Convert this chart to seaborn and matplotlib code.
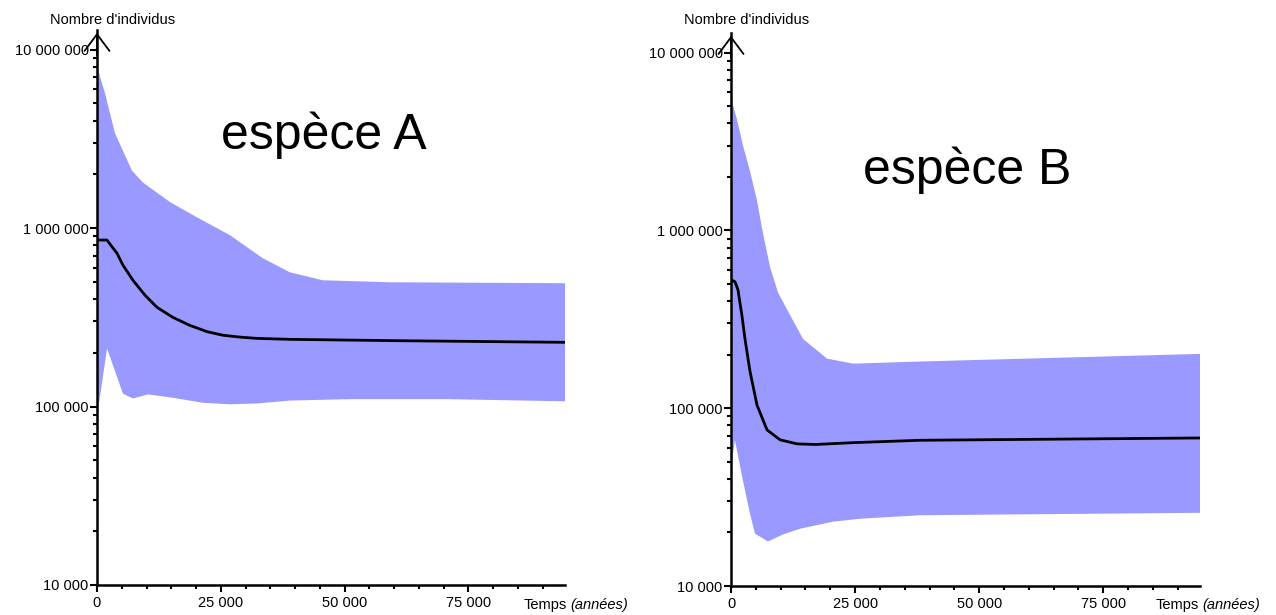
import numpy as np
import pandas as pd
import matplotlib
matplotlib.use('Agg')
import matplotlib.pyplot as plt
import matplotlib.ticker as mticker
import seaborn as sns

# ---------------- données ----------------
# espèce A
a_med_t = [0, 2000, 4030, 5240, 7260, 9680, 12100, 15320, 18750, 22180, 25400, 28830, 32260, 38900, 60000, 94500]
a_med_n = [857e3, 857e3, 723e3, 620e3, 510e3, 421e3, 360e3, 316e3, 285e3, 263e3, 251e3, 245e3, 241e3, 238e3, 234e3, 229e3]
a_up_t = [0, 200, 1610, 3630, 7060, 9270, 14720, 20160, 26810, 33470, 38910, 45560, 59070, 94500]
a_up_n = [7.9e6, 7.7e6, 5.7e6, 3.4e6, 2.1e6, 1.8e6, 1.40e6, 1.15e6, 914e3, 678e3, 566e3, 510e3, 497e3, 491e3]
a_lo_t = [0, 200, 2020, 5240, 7260, 10280, 15320, 21370, 26810, 32260, 38910, 51000, 71000, 94500]
a_lo_n = [97e3, 95e3, 212e3, 118e3, 111e3, 117e3, 112e3, 105e3, 103e3, 104e3, 108e3, 110e3, 110e3, 107e3]

# espèce B
b_med_t = [0, 800, 1400, 2220, 2820, 3830, 5240, 7260, 9880, 13300, 17000, 24600, 38100, 94500]
b_med_n = [528e3, 514e3, 464e3, 329e3, 245e3, 161e3, 104e3, 75.5e3, 66.4e3, 63e3, 62.5e3, 64e3, 66e3, 68e3]
b_up_t = [0, 200, 1210, 2420, 3830, 5240, 6450, 7860, 9480, 11290, 14520, 19350, 24600, 38100, 94500]
b_up_n = [5.6e6, 5.3e6, 4.2e6, 3.0e6, 2.15e6, 1.47e6, 962e3, 623e3, 447e3, 359e3, 245e3, 190e3, 178e3, 183e3, 202e3]
b_lo_t = [0, 800, 2420, 3830, 4840, 7460, 10480, 13910, 20560, 26010, 38100, 94500]
b_lo_n = [46e3, 66e3, 39e3, 25.5e3, 19.7e3, 17.8e3, 19.5e3, 21e3, 23e3, 23.9e3, 25e3, 25.8e3]

titres = ['espèce A', 'espèce B']
y_ticks = [1e4, 1e5, 1e6, 1e7]
y_labels = ['10 000', '100 000', '1 000 000', '10 000 000']
x_ticks = [0, 25000, 50000, 75000]
x_labels = ['0', '25 000', '50 000', '75 000']

sns.set_style('ticks')
plt.rcParams['font.family'] = ['Liberation Sans', 'DejaVu Sans']

W, H = 1276, 615
fig = plt.figure(figsize=(W / 100, H / 100), dpi=100)

panneaux = [
    dict(pos=(97, 30, 565, 585), med=(a_med_t, a_med_n), up=(a_up_t, a_up_n), lo=(a_lo_t, a_lo_n),
         titre_xy=(324, 135), ylab_x=113, xlab_x=524),
    dict(pos=(731, 33, 1200, 586), med=(b_med_t, b_med_n), up=(b_up_t, b_up_n), lo=(b_lo_t, b_lo_n),
         titre_xy=(967, 170), ylab_x=747, xlab_x=1156),
]

for i, p in enumerate(panneaux):
    x0, y0, x1, y1 = p['pos']
    ax = fig.add_axes([x0 / W, 1 - y1 / H, (x1 - x0) / W, (y1 - y0) / H])
    ax.set_yscale('log')

    # bande (enveloppe) : bord haut puis bord bas à l'envers
    xs = np.r_[p['up'][0], p['lo'][0][::-1]]
    ys = np.r_[p['up'][1], p['lo'][1][::-1]]
    ax.fill(xs, ys, color='#9999ff', lw=0, zorder=1)

    df = pd.DataFrame({'temps': p['med'][0], 'n': p['med'][1]})
    sns.lineplot(data=df, x='temps', y='n', color='black', lw=2, ax=ax, zorder=3)

    ax.set_xlim(0, 94500)
    ax.set_ylim(1e4, 10 ** 7.11)

    ax.set_yticks(y_ticks)
    ax.set_yticklabels(y_labels)
    ax.yaxis.set_minor_locator(mticker.LogLocator(base=10, subs=np.arange(2, 10)))
    ax.yaxis.set_minor_formatter(mticker.NullFormatter())
    ax.set_xticks(x_ticks)
    ax.set_xticklabels(x_labels)
    ax.xaxis.set_minor_locator(mticker.MultipleLocator(5000))

    ax.tick_params(axis='both', which='major', labelsize=10.5, length=5, width=1.5, pad=3,
                   colors='black', labelcolor='black')
    ax.tick_params(axis='both', which='minor', length=3, width=1.5, colors='black')
    ax.tick_params(axis='y', which='major', pad=1)

    for s in ['top', 'right']:
        ax.spines[s].set_visible(False)
    for s in ['left', 'bottom']:
        ax.spines[s].set_linewidth(1.8)
        ax.spines[s].set_color('black')
    ax.set_xlabel('')
    ax.set_ylabel('')

    # flèche ouverte en haut de l'axe y
    ax.annotate('', xy=(0, 1.0), xytext=(0, 0.95), xycoords='axes fraction',
                arrowprops=dict(arrowstyle='->, head_width=0.45, head_length=0.6', lw=1.3,
                                color='black', mutation_scale=20),
                annotation_clip=False)

    tx, ty = p['titre_xy']
    fig.text(tx / W, 1 - ty / H, titres[i], fontsize=36, ha='center', va='center', color='black')
    fig.text(p['ylab_x'] / W, 1 - 20 / H, "Nombre d'individus", fontsize=10.5, ha='center',
             va='center', color='black')
    fig.text(p['xlab_x'] / W, 1 - 605 / H, 'Temps', fontsize=10.5, ha='left', va='center', color='black')
    fig.text((p['xlab_x'] + 46) / W, 1 - 605 / H, '(années)', fontsize=10.5, ha='left', va='center',
             style='italic', color='black')

fig.savefig('out.png', dpi=100)
